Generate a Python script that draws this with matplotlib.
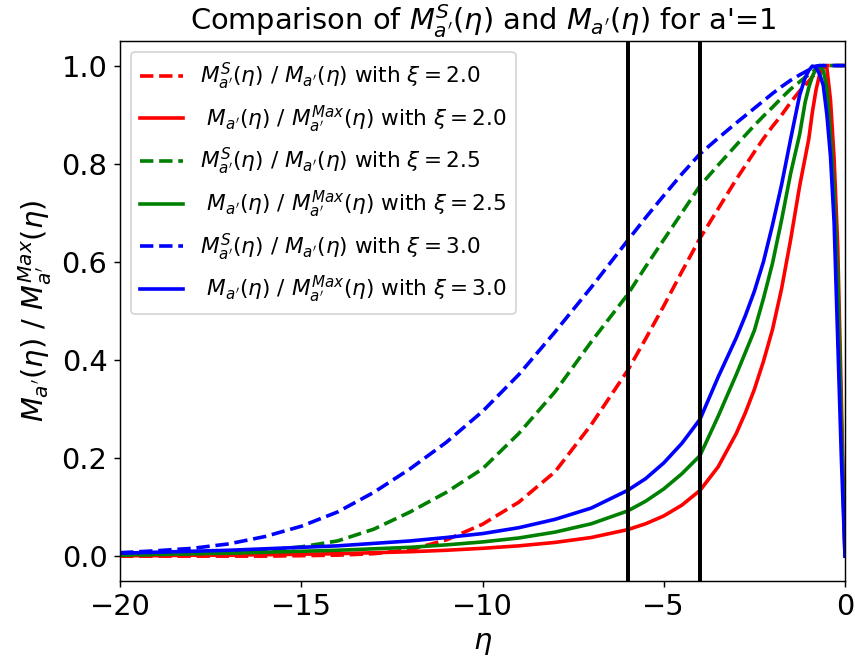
import matplotlib
matplotlib.use('Agg')
import matplotlib.pyplot as plt
import numpy as np

# eta grid
eta = [-20, -19, -18, -17, -16, -15, -14, -13, -12, -11, -10, -9, -8, -7, -6, -5.5, -5, -4.5,
       -4, -3.5, -3, -2.75, -2.5, -2.25, -2, -1.75, -1.5, -1.25, -1.1, -1.0, -0.9, -0.8,
       -0.7, -0.6, -0.5, -0.4, -0.3, -0.2, -0.1, -0.05, 0]

# M^S / M  (dashed)
ms_xi20 = [0.0, 0.0, 0.0, 0.0, 0.0, 0.001, 0.002, 0.005, 0.013, 0.033, 0.065, 0.11, 0.172,
           0.268, 0.378, 0.443, 0.51, 0.58, 0.648, 0.708, 0.768, 0.796, 0.824, 0.851, 0.876,
           0.899, 0.925, 0.948, 0.96, 0.968, 0.977, 0.986, 0.993, 0.998, 1.0,
           1.0, 1.0, 1.0, 1.0, 1.0, 1.0]
ms_xi25 = [0.002, 0.003, 0.005, 0.008, 0.012, 0.019, 0.031, 0.055, 0.09, 0.13, 0.178, 0.25,
           0.335, 0.437, 0.533, 0.59, 0.645, 0.7, 0.755, 0.797, 0.838, 0.858, 0.878, 0.897,
           0.915, 0.934, 0.952, 0.967, 0.976, 0.981, 0.987, 0.993, 0.998, 1.0,
           1.0, 1.0, 1.0, 1.0, 1.0, 1.0, 1.0]
ms_xi30 = [0.007, 0.011, 0.016, 0.025, 0.04, 0.061, 0.09, 0.13, 0.178, 0.232, 0.295, 0.37,
           0.457, 0.548, 0.643, 0.69, 0.735, 0.779, 0.82, 0.852, 0.883, 0.898, 0.913, 0.928,
           0.943, 0.957, 0.97, 0.981, 0.987, 0.991, 0.996, 0.999, 1.0,
           1.0, 1.0, 1.0, 1.0, 1.0, 1.0, 1.0, 1.0]

# M / M^Max  (solid)
mm_xi20 = [0.001, 0.001, 0.002, 0.002, 0.003, 0.004, 0.005, 0.007, 0.009, 0.012, 0.016, 0.021,
           0.028, 0.038, 0.054, 0.066, 0.082, 0.104, 0.134, 0.182, 0.25, 0.292, 0.34, 0.397,
           0.462, 0.545, 0.645, 0.755, 0.812, 0.85, 0.905, 0.95, 0.982, 0.998, 0.995,
           0.93, 0.81, 0.63, 0.32, 0.16, 0.0]
mm_xi25 = [0.003, 0.004, 0.005, 0.006, 0.008, 0.01, 0.012, 0.015, 0.018, 0.023, 0.029, 0.037,
           0.049, 0.066, 0.092, 0.112, 0.137, 0.168, 0.205, 0.285, 0.37, 0.415, 0.46, 0.525,
           0.597, 0.685, 0.78, 0.86, 0.925, 0.955, 0.978, 0.993, 1.0, 0.99, 0.955,
           0.86, 0.74, 0.57, 0.27, 0.13, 0.0]
mm_xi30 = [0.006, 0.008, 0.01, 0.012, 0.015, 0.018, 0.021, 0.026, 0.031, 0.038, 0.046, 0.058,
           0.075, 0.098, 0.134, 0.158, 0.19, 0.23, 0.279, 0.365, 0.445, 0.49, 0.54, 0.6,
           0.675, 0.757, 0.85, 0.94, 0.975, 0.99, 0.999, 0.996, 0.982, 0.96, 0.9,
           0.815, 0.68, 0.44, 0.2, 0.1, 0.0]

xis = ['2.0', '2.5', '3.0']
colors = ['r', 'g', 'b']
eta_marks = [-6, -4]

fig, ax = plt.subplots(figsize=(855/130, 666/130), dpi=130)
fig.subplots_adjust(left=0.1404, right=0.9883, top=0.9384, bottom=0.1281)

for xi, c, ms, mm in zip(xis, colors, [ms_xi20, ms_xi25, ms_xi30], [mm_xi20, mm_xi25, mm_xi30]):
    ax.plot(eta, ms, '--', color=c, lw=2,
            label=r"$M^S_{a'}(\eta)$ / $M_{a'}(\eta)$ with $\xi = %s$" % xi)
    ax.plot(eta, mm, '-', color=c, lw=2,
            label=r" $M_{a'}(\eta)$ / $M^{Max}_{a'}(\eta)$ with $\xi = %s$" % xi)

for e in eta_marks:
    ax.axvline(e, color='k', lw=2.2)

ax.set_xlim(-20, 0)
ax.set_xticks([-20, -15, -10, -5, 0])
ax.tick_params(labelsize=16)
ax.set_xlabel(r'$\eta$', fontsize=16)
ax.set_ylabel(r"$M_{a'}(\eta)$ / $M^{Max}_{a'}(\eta)$", fontsize=16)
ax.set_title(r"Comparison of $M^S_{a'}(\eta)$ and $M_{a'}(\eta)$ for a'=1", fontsize=16)
ax.legend(loc='upper left', fontsize=12)

plt.savefig('out.png', dpi=130)
